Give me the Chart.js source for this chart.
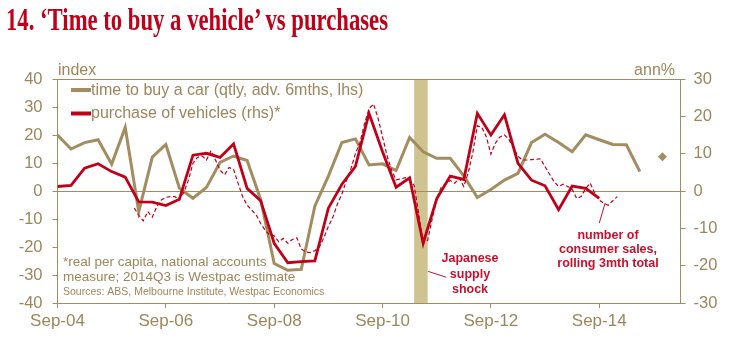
<!DOCTYPE html>
<html>
<head>
<meta charset="utf-8">
<script src="https://cdn.jsdelivr.net/npm/chart.js@4.4.1/dist/chart.umd.min.js"></script>
<style>
html, body { margin: 0; padding: 0; background: #fff; }
#wrap { position: relative; width: 729px; height: 344px; overflow: hidden; }
#myChart { position: absolute; left: 0; top: 0; }
#title { position: absolute; left: 6px; top: 4px; font-family: "Liberation Serif", "Times New Roman", serif; font-weight: bold; font-size: 31px; line-height: 31px; color: #c00018; white-space: nowrap; transform-origin: 0 0; }
</style>
</head>
<body>
<div id="wrap">
  <canvas id="myChart" width="729" height="344"></canvas>
  <div id="title">14. ‘Time to buy a vehicle’ vs purchases</div>
</div>
<script>
// x axis is in months counted from Sep-04
var tickMonths = [0, 24, 48, 72, 96, 120];
var tickLabels = ["Sep-04", "Sep-06", "Sep-08", "Sep-10", "Sep-12", "Sep-14"];

// time to buy a car, quarterly from Sep-04 (lhs, index)
var timeToBuyStart = 0;
var timeToBuy = [20, 15, 17.3, 18.3, 9.6, 22.7, -7.4, 12.1, 16.6, 1.0, -2.6, 1.3,
  10.2, 12.5, 10.9, -3, -25.9, -28.3, -28, -5.4, 5.3, 17.3, 18.6, 9.3,
  9.7, 7.3, 19.1, 14.0, 11.7, 11.7, 5.4, -2.3, 0.5, 3.9, 6.3, 17.3,
  20.3, 17.3, 14.0, 20.1, 18.3, 16.6, 16.5, 6.9];

// latest time to buy reading (diamond)
var latestMonth = [134];
var latestValue = [12.2];

// purchase of vehicles, quarterly from Sep-04 (rhs, ann%)
var purchasesStart = 0;
var purchases = [1.2, 1.5, 6.1, 7.3, 5.2, 3.7, -2.9, -3.0, -3.9, -2.2, 9.6, 10.1,
  9.0, 12.6, 0.7, -2.6, -14.0, -19.2, -18.9, -18.7, -4.6, 1.8, 6.6, 20.8,
  10.5, 1.0, 3.5, -14.0, -2.1, 4.0, 3.1, 20.8, 15.0, 20.4, 7.4, 2.9,
  1.4, -5.0, 1.3, 0.7, -2.0];

// number of consumer sales, rolling 3mth total, monthly from Feb-06 (rhs, ann%)
var salesStart = 17;
var consumerSales = [-4.6, -6.5, -8.0, -5.5, -7.0, -4.2, -2.4, -1.7, -1.5, -1.5,
  -2.4, -0.3, 2.9, 7.4, 9.0, 9.4, 8.3, 10.8, 8.3, 5.6,
  4.3, 6.3, 5.8, 2.1, -1.5, -3.8, -5.1, -6.4, -8.7, -10.5,
  -11.8, -12.0, -13.6, -12.7, -14.0, -13.0, -12.5, -15.5, -16.3, -16.5,
  -16.0, -15.0, -12.5, -9.5, -7.0, -3.5, -0.8, 2.8, 6.0, 10.0,
  13.0, 18.0, 22.0, 23.3, 19.5, 14.5, 9.5, 5.5, 3.0, 3.2,
  3.6, 2.9, 1.5, -6.0, -14.0, -13.2, -7.5, -2.0, 1.0, 2.0,
  2.8, 2.1, 3.4, 1.2, 5.0, 10.3, 17.5, 17.0, 14.5, 9.9,
  12.8, 14.5, 15.0, 13.8, 11.5, 9.3, 8.3, 8.3, 8.4, 8.5,
  8.6, 6.5, 4.5, 2.5, 1.2, 1.8, 1.2, 0.5, -2.0, -1.5,
  0.7, 2.1, -0.6, -2.4, -3.3, -3.8, -2.6, -1.5];

// Japanese supply shock band (months)
var shockMonths = [79, 82];

var TAN = "#a38c5f";
var TEXT = "#9d865c";
var RED = "#c00018";
var BAND = "#cfc392";
var FONT = '"Liberation Sans", Arial, sans-serif';

function quarterly(start, values) {
    return values.map(function (v, i) {
        return { x: start + i * 3, y: v };
    });
}

function monthly(start, values) {
    return values.map(function (v, i) {
        return { x: start + i, y: v };
    });
}

// shaded band, zero line, top frame line
var backdrop = {
    id: "backdrop",
    beforeDatasetsDraw: function (chart) {
        var c = chart.ctx, a = chart.chartArea, x = chart.scales.x, y = chart.scales.y;
        c.save();
        var x0 = x.getPixelForValue(shockMonths[0]);
        var x1 = x.getPixelForValue(shockMonths[1]);
        c.fillStyle = BAND;
        c.fillRect(x0, a.top, x1 - x0, a.bottom - a.top);
        c.strokeStyle = TAN;
        c.lineWidth = 1;
        var y0 = Math.round(y.getPixelForValue(0)) + 0.5;
        c.beginPath();
        c.moveTo(a.left, y0);
        c.lineTo(a.right, y0);
        c.moveTo(a.left, Math.round(a.top) + 0.5);
        c.lineTo(a.right, Math.round(a.top) + 0.5);
        c.stroke();
        c.restore();
    }
};

// legend, units, notes and the red call-outs
var notes = {
    id: "notes",
    afterDraw: function (chart) {
        var c = chart.ctx, x = chart.scales.x, y = chart.scales.y;
        c.save();

        // legend
        var items = [chart.data.datasets[2], chart.data.datasets[0]];
        var rows = [90, 113.5];
        items.forEach(function (ds, i) {
            c.strokeStyle = ds.borderColor;
            c.lineWidth = 4;
            c.beginPath();
            c.moveTo(71, rows[i]);
            c.lineTo(91, rows[i]);
            c.stroke();
            c.fillStyle = TEXT;
            c.font = "16px " + FONT;
            c.textBaseline = "alphabetic";
            c.textAlign = "left";
            c.fillText(ds.label, 91, rows[i] + 4.5);
        });

        // axis units
        c.font = "16px " + FONT;
        c.fillStyle = TEXT;
        c.textAlign = "left";
        c.fillText("index", 58, 74.5);
        c.textAlign = "right";
        c.fillText("ann%", 675, 74.5);

        // footnotes
        c.textAlign = "left";
        c.font = "13.5px " + FONT;
        c.fillText("*real per capita, national accounts", 63, 265.5);
        c.fillText("measure; 2014Q3 is Westpac estimate", 63, 280.5);
        c.font = "10.5px " + FONT;
        c.fillText("Sources: ABS, Melbourne Institute, Westpac Economics", 63, 294.5);

        // red call-outs
        c.fillStyle = "#c8102e";
        c.font = "bold 12.5px " + FONT;
        c.textAlign = "center";
        c.fillText("Japanese", 470, 262);
        c.fillText("supply", 470, 277.5);
        c.fillText("shock", 470, 293);
        c.fillText("number of", 608, 238.5);
        c.fillText("consumer sales,", 608, 252.7);
        c.fillText("rolling 3mth total", 608, 267);

        c.strokeStyle = "#c8102e";
        c.lineWidth = 1;
        c.beginPath();
        c.moveTo(x.getPixelForValue(82.1), y.getPixelForValue(-28.7));
        c.lineTo(x.getPixelForValue(86.1), y.getPixelForValue(-30.8));
        c.moveTo(x.getPixelForValue(120.0), y.getPixelForValue(-11.5));
        c.lineTo(x.getPixelForValue(121.3), y.getPixelForValue(-4.3));
        c.stroke();
        c.restore();
    }
};

var ctx = document.getElementById("myChart").getContext("2d");
var myChart = new Chart(ctx, {
    type: "line",
    data: {
        datasets: [
            {
                label: "purchase of vehicles (rhs)*",
                data: quarterly(purchasesStart, purchases),
                yAxisID: "y2",
                borderColor: RED,
                borderWidth: 2.8,
                pointRadius: 0,
                tension: 0
            },
            {
                label: "number of consumer sales",
                data: monthly(salesStart, consumerSales),
                yAxisID: "y2",
                borderColor: RED,
                borderWidth: 1.2,
                borderDash: [4, 2.5],
                pointRadius: 0,
                tension: 0
            },
            {
                label: "time to buy a car (qtly, adv. 6mths, lhs)",
                data: quarterly(timeToBuyStart, timeToBuy),
                yAxisID: "y",
                borderColor: TAN,
                borderWidth: 3,
                pointRadius: 0,
                tension: 0
            },
            {
                label: "latest",
                data: latestMonth.map(function (m, i) {
                    return { x: m, y: latestValue[i] };
                }),
                yAxisID: "y",
                showLine: false,
                pointStyle: "rectRot",
                pointRadius: 4.5,
                backgroundColor: TAN,
                borderColor: TAN,
                borderWidth: 0
            }
        ]
    },
    options: {
        responsive: false,
        animation: false,
        devicePixelRatio: 1,
        layout: { padding: { top: 79, left: 0, right: 0, bottom: 0 } },
        plugins: {
            legend: { display: false },
            tooltip: { enabled: false }
        },
        scales: {
            x: {
                type: "linear",
                min: 0,
                max: 138,
                afterBuildTicks: function (axis) {
                    axis.ticks = tickMonths.map(function (m) {
                        return { value: m };
                    });
                },
                afterFit: function (s) {
                    s.height = 41;
                },
                ticks: {
                    callback: function (value, index) {
                        return tickLabels[index];
                    },
                    color: TEXT,
                    font: { family: FONT, size: 17 },
                    padding: 3,
                    maxRotation: 0,
                    autoSkip: false
                },
                grid: { drawOnChartArea: false, tickLength: 5, color: TAN },
                border: { color: TAN, width: 1 }
            },
            y: {
                position: "left",
                min: -40,
                max: 40,
                afterFit: function (s) {
                    s.width = 57.5;
                },
                ticks: {
                    stepSize: 10,
                    color: TEXT,
                    font: { family: FONT, size: 16.5 },
                    padding: 10
                },
                grid: { drawOnChartArea: false, tickLength: 5, color: TAN },
                border: { color: TAN, width: 1 }
            },
            y2: {
                position: "right",
                min: -30,
                max: 30,
                afterFit: function (s) {
                    s.width = 48.5;
                },
                ticks: {
                    stepSize: 10,
                    color: TEXT,
                    font: { family: FONT, size: 16.5 },
                    padding: 8
                },
                grid: { drawOnChartArea: false, tickLength: 5, color: TAN },
                border: { color: TAN, width: 1 }
            }
        }
    },
    plugins: [backdrop, notes]
});

// squeeze the serif title to the reference width
var title = document.getElementById("title");
var w = title.getBoundingClientRect().width;
title.style.transform = "scaleX(" + (382 / w) + ")";
</script>
</body>
</html>
